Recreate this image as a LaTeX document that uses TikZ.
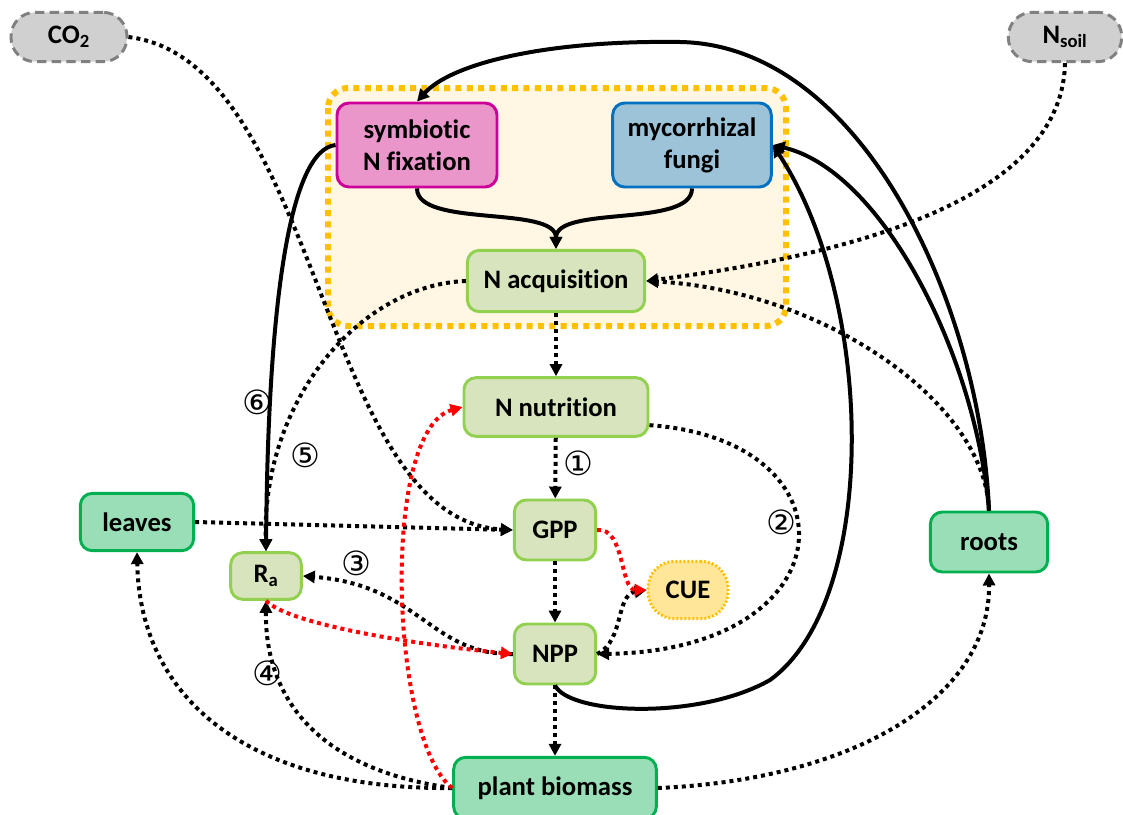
\documentclass[tikz,border=0pt]{standalone}
\usepackage{fontspec}
\setmainfont{Carlito}[Ligatures=NoCommon]
\newfontfamily\circfont{DejaVu Sans}
\usetikzlibrary{arrows.meta}
\definecolor{lightgreen}{HTML}{D7E4BD}
\definecolor{lightgreenline}{HTML}{92D050}
\definecolor{organfill}{HTML}{9ADEB8}
\definecolor{organline}{HTML}{00B050}
\definecolor{symfill}{HTML}{EA96CA}
\definecolor{symline}{HTML}{CC0099}
\definecolor{mycofill}{HTML}{9DC3D9}
\definecolor{mycoline}{HTML}{0070C0}
\definecolor{cuefill}{HTML}{FFE699}
\definecolor{gold}{HTML}{FFC000}
\definecolor{cream}{HTML}{FFF6E3}
\definecolor{poolfill}{HTML}{D0D0D0}
\definecolor{poolline}{HTML}{808080}

\begin{document}
\begin{tikzpicture}[x=0.75pt,y=-0.75pt,line join=round,
		font=\fontsize{20}{24}\selectfont\bfseries,
		>={Triangle[length=9pt,width=9pt]},
		box/.style={rounded corners=9pt,line width=2.2pt,align=center,inner sep=0pt},
		proc/.style={box,fill=lightgreen,draw=lightgreenline},
		organ/.style={box,fill=organfill,draw=organline},
		pool/.style={box,fill=poolfill,draw=poolline,rounded corners=18pt,dash pattern=on 7pt off 4pt,minimum width=87pt,minimum height=37pt},
		flow/.style={->,line width=3pt,dash pattern=on 3pt off 3pt},
		redflow/.style={flow,red},
		link/.style={->,line width=3pt},
		num/.style={font=\circfont\fontsize{25}{25}\selectfont}]
	\useasboundingbox (0,0) rectangle (1123,814);
	% N uptake group
	\fill[cream,rounded corners=15pt] (328,88) rectangle (786,326);
	\draw[gold,line width=4.5pt,dash pattern=on 4.5pt off 4pt,rounded corners=15pt] (328,88) rectangle (786,326);
	% nodes
	\node[pool] (co2) at (69,37) {CO\textsubscript{2}};
	\node[pool,minimum width=85pt] (nsoil) at (1065,37) {N\textsubscript{soil}};
	\node[box,fill=symfill,draw=symline,minimum width=120pt,minimum height=63pt] (sym) at (417,145) {symbiotic\\N fixation};
	\node[box,fill=mycofill,draw=mycoline,minimum width=119pt,minimum height=63pt] (myco) at (692,145) {mycorrhizal\\fungi};
	\node[proc,minimum width=133pt,minimum height=46pt] (nacq) at (556,281) {N acquisition};
	\node[proc,minimum width=138pt,minimum height=44pt] (nnut) at (556,407) {N nutrition};
	\node[proc,minimum width=61pt,minimum height=45pt] (gpp) at (555,530) {GPP};
	\node[proc,minimum width=61pt,minimum height=45pt] (npp) at (555,654) {NPP};
	\node[box,fill=cuefill,draw=gold,dash pattern=on 1.5pt off 1.5pt,rounded corners=20pt,minimum width=60pt,minimum height=43pt] (cue) at (688,590) {CUE};
	\node[proc,minimum width=53pt,minimum height=35pt] (ra) at (266,576) {R\textsubscript{a}};
	\node[organ,minimum width=85pt,minimum height=43pt] (leaves) at (137,522) {leaves};
	\node[organ,minimum width=88pt,minimum height=45pt] (roots) at (989,542) {roots};
	\node[organ,minimum width=152pt,minimum height=46pt] (pb) at (555,788) {plant biomass};
	% solid links
	\draw[link] (sym.south) .. controls (417,228) and (556,205) .. (nacq.north);
	\draw[link] (myco.south) .. controls (692,228) and (556,205) .. (nacq.north);
	\draw[link] (sym.west) .. controls (290,150) and (268,300) .. (ra.north);
	\draw[link] (roots.north) .. controls (980,300) and (860,45) .. (680,42) .. controls (540,40) and (450,65) .. (sym.north);
	\draw[link] (roots.north) .. controls (975,350) and (880,170) .. (myco.east);
	\draw[link] (npp.south) .. controls (570,715) and (700,720) .. (770,680) .. controls (880,600) and (875,300) .. (myco.east);
	% dotted flows
	\draw[flow] (co2.east) .. controls (320,60) and (320,520) .. (gpp.west);
	\draw[flow] (nsoil.south) .. controls (1062,200) and (850,255) .. (nacq.east);
	\draw[flow] (roots.north) .. controls (985,400) and (820,290) .. (nacq.east);
	\draw[flow] (nacq.west) .. controls (360,285) and (262,400) .. (ra.north);
	\draw[flow] (nacq) -- (nnut);
	\draw[flow] (nnut) -- (gpp);
	\draw[flow] (nnut.349) .. controls (860,440) and (850,650) .. (npp.east);
	\draw[flow] (gpp) -- (npp);
	\draw[flow] (npp) -- (pb);
	\draw[flow] (leaves.east) -- (gpp.west);
	\draw[flow] (npp.east) .. controls (625,640) and (615,595) .. (cue.west);
	\draw[flow] (npp.west) .. controls (430,655) and (420,585) .. (ra.east);
	\draw[flow] (pb.west) .. controls (320,770) and (265,700) .. (ra.south);
	\draw[flow] (pb.west) .. controls (250,790) and (140,700) .. (leaves.south);
	\draw[flow] (pb.east) .. controls (850,780) and (990,700) .. (roots.south);
	\draw[redflow] (gpp.east) .. controls (625,527) and (620,590) .. (cue.west);
	\draw[redflow] (ra.south) .. controls (290,625) and (420,645) .. (npp.west);
	\draw[redflow] (pb.west) .. controls (390,740) and (380,430) .. (nnut.west);
	% numbers
	\node[num] (n1) at (578,463) {①};
	\node[num] (n2) at (781,522) {②};
	\node[num] (n3) at (356,563) {③};
	\node[num] (n4) at (267,673) {④};
	\node[num] (n5) at (305,455) {⑤};
	\node[num] (n6) at (257,402) {⑥};
\end{tikzpicture}
\end{document}
